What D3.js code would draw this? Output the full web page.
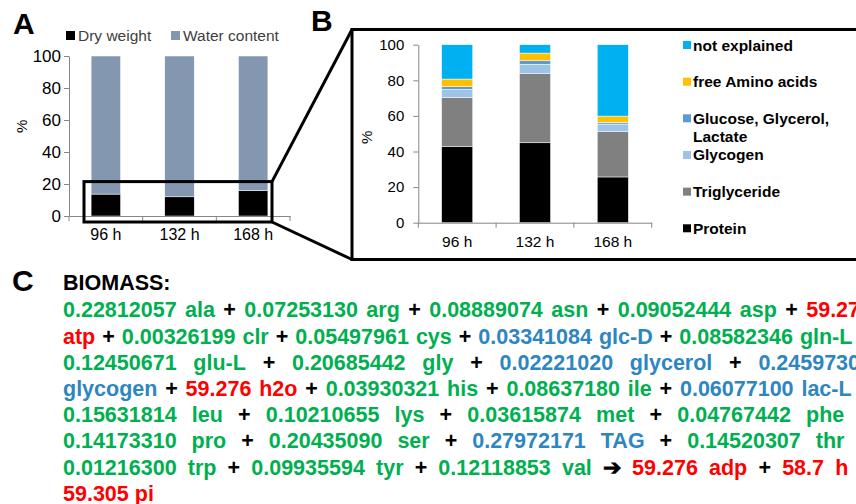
<!DOCTYPE html>
<html><head><meta charset="utf-8">
<script src="https://cdn.jsdelivr.net/npm/d3@7"></script>
<style>
body{margin:0;background:#fff;}
svg{display:block;font-family:Arial,"Liberation Sans",sans-serif;}
</style>
</head><body><svg id="c" width="856" height="504"></svg>
<script>
// ---------- data ----------
const timepoints = ["96 h", "132 h", "168 h"];
const yTicks = [0, 20, 40, 60, 80, 100];

// Panel A (% of fresh weight)
const dryWeight = [13.7, 12.0, 15.8];
const waterContent = [86.3, 88.0, 84.2];
const seriesA = ["Dry weight", "Water content"];
const colorsA = ["#000000", "#8497B0"];

// Panel B (% of dry weight)
const protein = [42.7, 44.9, 25.7];
const triglyceride = [27.7, 38.8, 25.4];
const glycogen = [4.5, 5.3, 4.3];
const glucoseGlycerolLactate = [1.5, 2.0, 1.0];
const freeAminoAcids = [4.3, 4.3, 3.5];
const notExplained = [19.3, 4.7, 40.1];
const seriesB = ["Protein", "Triglyceride", "Glycogen", "Glucose, Glycerol, Lactate", "free Amino acids", "not explained"];
const colorsB = ["#000000", "#808080", "#9DC3E6", "#5B9BD5", "#FFC000", "#00B0F0"];
const legendOrderB = ["not explained", "free Amino acids", "Glucose, Glycerol, Lactate", "Glycogen", "Triglyceride", "Protein"];
const legendLinesB = [["not explained"], ["free Amino acids"], ["Glucose, Glycerol,", "Lactate"], ["Glycogen"], ["Triglyceride"], ["Protein"]];

// Panel C biomass reaction
const reactants = [
  ["0.22812057", "ala", "aa"], ["0.07253130", "arg", "aa"], ["0.08889074", "asn", "aa"], ["0.09052444", "asp", "aa"],
  ["59.276", "atp", "en"], ["0.00326199", "clr", "aa"], ["0.05497961", "cys", "aa"], ["0.03341084", "glc-D", "cb"],
  ["0.08582346", "gln-L", "aa"], ["0.12450671", "glu-L", "aa"], ["0.20685442", "gly", "aa"], ["0.02221020", "glycerol", "cb"],
  ["0.24597300", "glycogen", "cb"], ["59.276", "h2o", "en"], ["0.03930321", "his", "aa"], ["0.08637180", "ile", "aa"],
  ["0.06077100", "lac-L", "cb"], ["0.15631814", "leu", "aa"], ["0.10210655", "lys", "aa"], ["0.03615874", "met", "aa"],
  ["0.04767442", "phe", "aa"], ["0.14173310", "pro", "aa"], ["0.20435090", "ser", "aa"], ["0.27972171", "TAG", "cb"],
  ["0.14520307", "thr", "aa"], ["0.01216300", "trp", "aa"], ["0.09935594", "tyr", "aa"], ["0.12118853", "val", "aa"]
];
const products = [["59.276", "adp", "en"], ["58.7", "h", "en"], ["59.305", "pi", "en"]];
const tokensPerLine = [13, 14, 10, 14, 12, 12, 15, 2];
const termColors = {aa: "#00B050", en: "#FF0000", cb: "#2E86C1", op: "#000000"};

// ---------- drawing ----------
const svg = d3.select("#c");
const axisColor = "#868686";

function panelLabel(t, x, y) {
  svg.append("text").attr("x", x).attr("y", y).attr("font-size", 30).attr("font-weight", "bold").text(t);
}
panelLabel("A", 13, 34);
panelLabel("B", 311, 31);
panelLabel("C", 12, 291);

// ===== Panel A =====
const xA = d3.scaleBand().domain(timepoints).range([69, 290]).paddingInner(0.6).paddingOuter(0.3);
const yA = d3.scaleLinear().domain([0, 100]).range([216, 56]);
const rowsA = timepoints.map((t, i) => ({t, "Dry weight": dryWeight[i], "Water content": waterContent[i]}));
const stackA = d3.stack().keys(seriesA)(rowsA);
const gA = svg.append("g");
gA.selectAll("g.s").data(stackA).join("g").attr("fill", (d, i) => colorsA[i])
  .selectAll("rect").data(d => d).join("rect")
  .attr("x", d => xA(d.data.t)).attr("width", xA.bandwidth())
  .attr("y", d => yA(d[1])).attr("height", d => yA(d[0]) - yA(d[1]))
  .attr("stroke", "#fff").attr("stroke-width", 0.5);

function styleAxis(g) {
  g.selectAll("path.domain").attr("stroke", axisColor);
  g.selectAll(".tick line").attr("stroke", axisColor);
  g.selectAll("text").attr("fill", "#000").attr("font-family", "Arial, 'Liberation Sans', sans-serif");
}
const yAxA = gA.append("g").attr("transform", "translate(69,0)")
  .call(d3.axisLeft(yA).tickValues(yTicks).tickSize(5).tickSizeOuter(0).tickPadding(3));
yAxA.selectAll("text").attr("font-size", 17);
styleAxis(yAxA);
const xAxA = gA.append("g").attr("transform", "translate(0,216)")
  .call(d3.axisBottom(xA).tickSize(0).tickPadding(13));
xAxA.selectAll("text").attr("font-size", 16);
styleAxis(xAxA);
// category boundary ticks
gA.selectAll("line.bt").data(d3.range(timepoints.length + 1)).join("line")
  .attr("x1", i => xA.range()[0] + i * xA.step()).attr("x2", i => xA.range()[0] + i * xA.step())
  .attr("y1", yA(0)).attr("y2", yA(0) + 5).attr("stroke", axisColor);
gA.append("text").attr("transform", `translate(27,${yA(56)}) rotate(-90)`)
  .attr("text-anchor", "middle").attr("font-size", 15).text("%");

// legend A
const legA = gA.append("g");
const legAx = [66, 171];
seriesA.forEach((s, i) => {
  legA.append("rect").attr("x", legAx[i]).attr("y", 31).attr("width", 9).attr("height", 9).attr("fill", colorsA[i]);
  legA.append("text").attr("x", legAx[i] + 12).attr("y", 40.5).attr("font-size", 15.5).attr("fill", "#404040").text(s);
});

// zoom box + connectors
const zx0 = xA.range()[0] + 15, zx1 = xA.range()[1] - 18, zy0 = yA(21.5), zy1 = yA(0) + 6;
svg.append("rect").attr("x", zx0).attr("y", zy0).attr("width", zx1 - zx0).attr("height", zy1 - zy0)
  .attr("fill", "none").attr("stroke", "#000").attr("stroke-width", 3);
const boxB = {x: 352, y: 29.5, w: 530, h: 230};
svg.append("rect").attr("x", boxB.x).attr("y", boxB.y).attr("width", boxB.w).attr("height", boxB.h)
  .attr("fill", "none").attr("stroke", "#000").attr("stroke-width", 3);
svg.append("line").attr("x1", zx1).attr("y1", zy0).attr("x2", boxB.x).attr("y2", boxB.y).attr("stroke", "#000").attr("stroke-width", 3);
svg.append("line").attr("x1", zx1).attr("y1", zy1).attr("x2", boxB.x).attr("y2", boxB.y + boxB.h).attr("stroke", "#000").attr("stroke-width", 3);

// ===== Panel B =====
const xB = d3.scaleBand().domain(timepoints).range([418.3, 651.7]).paddingInner(0.6).paddingOuter(0.3);
const yB = d3.scaleLinear().domain([0, 100]).range([222.7, 44.7]);
const valsB = [protein, triglyceride, glycogen, glucoseGlycerolLactate, freeAminoAcids, notExplained];
const rowsB = timepoints.map((t, i) => {
  const r = {t};
  seriesB.forEach((s, k) => r[s] = valsB[k][i]);
  return r;
});
const stackB = d3.stack().keys(seriesB)(rowsB);
const gB = svg.append("g");
gB.selectAll("g.s").data(stackB).join("g").attr("fill", (d, i) => colorsB[i])
  .selectAll("rect").data(d => d).join("rect")
  .attr("x", d => xB(d.data.t)).attr("width", xB.bandwidth())
  .attr("y", d => yB(d[1])).attr("height", d => yB(d[0]) - yB(d[1]))
  .attr("stroke", "#fff").attr("stroke-width", 0.5);
const yAxB = gB.append("g").attr("transform", "translate(418.3,0)")
  .call(d3.axisLeft(yB).tickValues(yTicks).tickSize(5).tickSizeOuter(0).tickPadding(9));
yAxB.selectAll("text").attr("font-size", 15);
styleAxis(yAxB);
const xAxB = gB.append("g").attr("transform", "translate(0,222.7)")
  .call(d3.axisBottom(xB).tickSize(0).tickPadding(13));
xAxB.selectAll("text").attr("font-size", 15.5);
styleAxis(xAxB);
gB.selectAll("line.bt").data(d3.range(timepoints.length + 1)).join("line")
  .attr("x1", i => xB.range()[0] + i * xB.step()).attr("x2", i => xB.range()[0] + i * xB.step())
  .attr("y1", yB(0)).attr("y2", yB(0) + 5).attr("stroke", axisColor);
gB.append("text").attr("transform", `translate(372,${yB(48)}) rotate(-90)`)
  .attr("text-anchor", "middle").attr("font-size", 15).text("%");

// legend B
const legY = d3.scalePoint().domain(legendOrderB).range([45, 228.3]);
legendOrderB.forEach((s, i) => {
  const c = colorsB[seriesB.indexOf(s)];
  const y = legY(s);
  gB.append("rect").attr("x", 683).attr("y", y - 4).attr("width", 8).attr("height", 8).attr("fill", c);
  const t = gB.append("text").attr("x", 693).attr("y", y + 5.5).attr("font-size", 15.5).attr("font-weight", "bold");
  legendLinesB[i].forEach((ln, j) => t.append("tspan").attr("x", 693).attr("dy", j === 0 ? 0 : 18).text(ln));
});

// ===== Panel C =====
const gC = svg.append("g").attr("font-weight", "bold").attr("font-size", 21.5);
gC.append("text").attr("x", 63).attr("y", 290).attr("fill", "#000").text("BIOMASS:");
const tokens = [];
reactants.forEach((r, i) => {
  if (i > 0) tokens.push({t: "+", c: "op"});
  tokens.push({t: r[0], c: r[2]}); tokens.push({t: r[1], c: r[2]});
});
tokens.push({t: "\u2794", c: "op"});
products.forEach((p, i) => {
  if (i > 0) tokens.push({t: "+", c: "op"});
  tokens.push({t: p[0], c: p[2]}); tokens.push({t: p[1], c: p[2]});
});
const xLeft = 63, xRight = 872, lineH = 26.2, firstBase = 317.3;
let k = 0;
tokensPerLine.forEach((n, li) => {
  const lineTokens = tokens.slice(k, k + n); k += n;
  const y = firstBase + li * lineH;
  const els = lineTokens.map(tk => gC.append("text").attr("y", y).attr("fill", termColors[tk.c]).text(tk.t));
  const widths = els.map(e => e.node().getComputedTextLength());
  const total = d3.sum(widths);
  const last = li === tokensPerLine.length - 1;
  const gap = last ? 6 : (xRight - xLeft - total) / (n - 1);
  let x = xLeft;
  els.forEach((e, j) => { e.attr("x", x); x += widths[j] + gap; });
});
</script>
</body></html>
